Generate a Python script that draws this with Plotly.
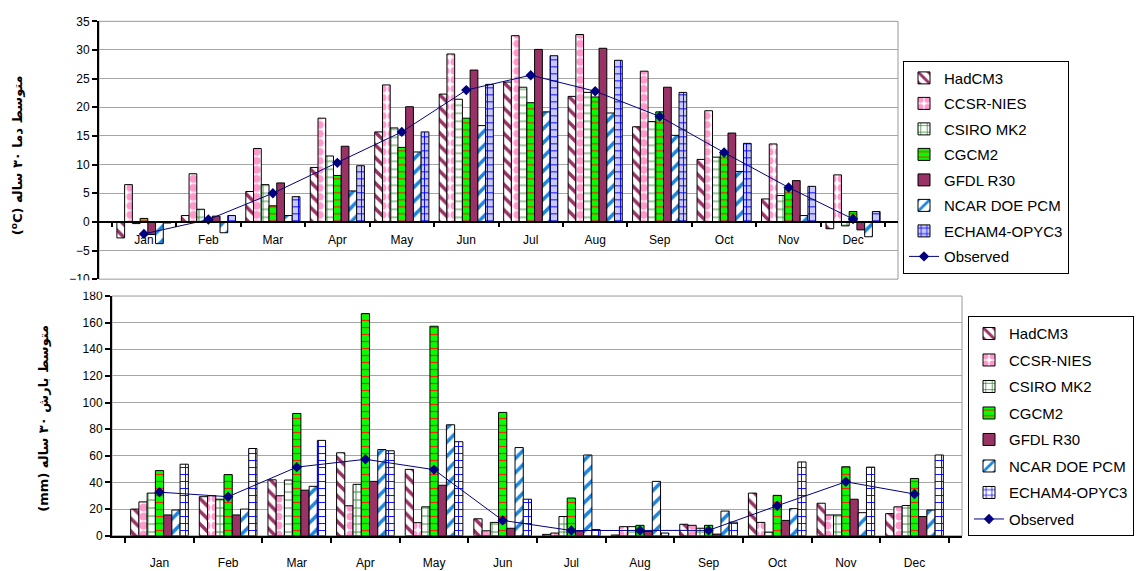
import plotly.graph_objects as go

W, H = 1138, 571

months = ["Jan", "Feb", "Mar", "Apr", "May", "Jun", "Jul", "Aug", "Sep", "Oct", "Nov", "Dec"]
models = ["HadCM3", "CCSR-NIES", "CSIRO MK2", "CGCM2", "GFDL R30", "NCAR DOE PCM", "ECHAM4-OPYC3"]

# 30-year mean temperature (°C)
temp_hadcm3 = [-2.8, 1.1, 5.3, 9.5, 15.7, 22.3, 24.4, 21.9, 16.6, 10.9, 4.0, -1.2]
temp_ccsr = [6.5, 8.4, 12.8, 18.1, 23.9, 29.3, 32.5, 32.7, 26.3, 19.4, 13.6, 8.2]
temp_csiro = [-0.3, 2.2, 6.5, 11.5, 16.4, 21.4, 23.5, 22.6, 17.5, 11.3, 4.6, -0.7]
temp_cgcm2 = [0.6, 0.3, 2.8, 8.1, 13.0, 18.1, 20.8, 21.8, 19.2, 11.9, 5.8, 1.8]
temp_gfdl = [-2.2, 1.0, 6.8, 13.2, 20.1, 26.5, 30.1, 30.3, 23.5, 15.5, 7.2, -1.4]
temp_ncar = [-3.8, -1.9, 1.1, 5.4, 12.2, 16.8, 19.2, 19.0, 15.1, 8.8, 1.1, -2.6]
temp_echam = [-0.2, 1.1, 4.4, 9.8, 15.7, 24.0, 29.0, 28.2, 22.6, 13.7, 6.2, 1.8]
temp_obs = [-2.1, 0.4, 5.0, 10.3, 15.7, 23.0, 25.6, 22.8, 18.4, 12.1, 6.0, 0.5]

# 30-year mean precipitation (mm)
prec_hadcm3 = [20.0, 29.3, 42.0, 62.3, 49.8, 12.7, 1.0, 0.5, 8.6, 32.0, 24.4, 16.6]
prec_ccsr = [25.4, 30.0, 30.0, 22.5, 9.8, 3.7, 2.0, 6.8, 7.8, 10.0, 15.6, 21.7]
prec_csiro = [32.0, 27.4, 41.8, 38.6, 21.7, 10.0, 14.4, 6.8, 5.6, 2.7, 15.6, 22.7]
prec_cgcm2 = [48.9, 45.9, 91.8, 166.8, 157.3, 92.6, 28.3, 7.8, 7.8, 30.3, 51.8, 43.0]
prec_gfdl = [15.6, 15.6, 34.2, 40.8, 37.9, 5.6, 3.6, 3.2, 1.2, 11.5, 27.4, 14.4]
prec_ncar = [19.3, 20.0, 37.1, 64.7, 83.3, 66.2, 60.6, 40.8, 18.5, 20.3, 17.3, 19.3]
prec_echam = [53.7, 65.5, 71.6, 63.8, 70.6, 27.4, 4.6, 2.0, 10.2, 55.4, 51.5, 60.6]
prec_obs = [32.7, 29.3, 51.5, 57.4, 49.6, 11.5, 3.9, 3.9, 4.0, 22.5, 40.5, 31.3]

temp_series = [temp_hadcm3, temp_ccsr, temp_csiro, temp_cgcm2, temp_gfdl, temp_ncar, temp_echam]
prec_series = [prec_hadcm3, prec_ccsr, prec_csiro, prec_cgcm2, prec_gfdl, prec_ncar, prec_echam]

MAROON = "#993366"
PINK = "#FF99CC"
DKGREEN = "#2E8B2E"
GREEN = "#00FF00"
SKY = "#1C86E0"
BLUE = "#0000FF"
NAVY = "#000080"

def styles(echam_bg):
    return [
        dict(shape="\\", fgcolor=MAROON, bgcolor="white", size=9, solidity=0.4, fillmode="replace"),
        dict(shape=".", fgcolor=PINK, bgcolor="white", size=9, solidity=0.6, fillmode="replace"),
        dict(shape="+", fgcolor=DKGREEN, bgcolor="white", size=8, solidity=0.22, fillmode="replace"),
        dict(shape="-", fgcolor="#FF2000", bgcolor=GREEN, size=7, solidity=0.18, fillmode="replace"),
        None,
        dict(shape="/", fgcolor=SKY, bgcolor="white", size=10, solidity=0.35, fillmode="replace"),
        dict(shape="+", fgcolor=BLUE, bgcolor=echam_bg, size=7, solidity=0.25, fillmode="replace"),
    ]

fig = go.Figure()

def add_panel(series, obs, xa, ya, legend, echam_bg):
    for name, vals, pat in zip(models, series, styles(echam_bg)):
        marker = dict(line=dict(color="black", width=1))
        if pat is None:
            marker["color"] = MAROON
        else:
            marker["color"] = pat["bgcolor"]
            marker["pattern"] = pat
        fig.add_trace(go.Bar(x=months, y=vals, name=name, marker=marker,
                             xaxis=xa, yaxis=ya, legend=legend, legendgroup=legend + name))
    fig.add_trace(go.Scatter(x=months, y=obs, name="Observed", mode="lines+markers",
                             line=dict(color=NAVY, width=1),
                             marker=dict(symbol="diamond", size=8, color=NAVY),
                             xaxis=xa, yaxis=ya, legend=legend, legendgroup=legend + "obs"))

add_panel(temp_series, temp_obs, "x", "y", "legend", "#C8C8FF")
add_panel(prec_series, prec_obs, "x2", "y2", "legend2", "white")

def px_x(p):
    return p / W

def px_y(p):
    return 1 - p / H

# panel geometry
top_dom_x = [px_x(99), px_x(898)]
top_dom_y = [px_y(279), px_y(14.7)]
top_range = [-10, 35]
zero_pos = top_dom_y[0] + (0 - top_range[0]) / (top_range[1] - top_range[0]) * (top_dom_y[1] - top_dom_y[0])

bot_dom_x = [px_x(112), px_x(962)]
bot_dom_y = [px_y(542), px_y(296.3)]

tick_font = dict(family="Arial, Liberation Sans, sans-serif", size=12, color="black")
legend_font = dict(family="Arial, Liberation Sans, sans-serif", size=15, color="black")
GRID = "#A6A6A6"

fig.update_layout(
    width=W, height=H, margin=dict(l=0, r=0, t=0, b=0),
    paper_bgcolor="white", plot_bgcolor="white",
    barmode="group", bargap=0.16, bargroupgap=0,
    font=tick_font,
    xaxis=dict(domain=top_dom_x, anchor="free", position=zero_pos, type="category",
               showline=True, linecolor="black", linewidth=2, ticks="outside", tickson="boundaries",
               ticklen=4, tickcolor="black", tickwidth=2, showgrid=False, ticklabelstandoff=7,
               tickfont=tick_font),
    yaxis=dict(domain=top_dom_y, anchor="x", range=top_range, dtick=5, showline=True,
               linecolor="black", linewidth=2, ticks="outside", ticklen=5, tickcolor="black",
               tickwidth=2, showgrid=True, gridcolor=GRID, gridwidth=1, zeroline=False,
               tickfont=tick_font),
    xaxis2=dict(domain=bot_dom_x, anchor="y2", type="category",
                showline=True, linecolor="black", linewidth=2, ticks="outside", tickson="boundaries",
                ticklen=5, tickcolor="black", tickwidth=2, showgrid=False, ticklabelstandoff=15,
                tickfont=tick_font),
    yaxis2=dict(domain=bot_dom_y, anchor="x2", range=[0, 180], dtick=20, showline=True,
                linecolor="black", linewidth=2, ticks="outside", ticklen=5, tickcolor="black",
                tickwidth=2, showgrid=True, gridcolor=GRID, gridwidth=1, zeroline=False,
                tickfont=tick_font),
    legend=dict(x=px_x(903), y=px_y(55), xanchor="left", yanchor="top",
                bordercolor="black", borderwidth=1, bgcolor="white", font=legend_font,
                traceorder="grouped", tracegroupgap=3, itemwidth=30),
    legend2=dict(x=px_x(968), y=px_y(317), xanchor="left", yanchor="top",
                 bordercolor="black", borderwidth=1, bgcolor="white", font=legend_font,
                 traceorder="grouped", tracegroupgap=4, itemwidth=30),
    shapes=[
        dict(type="rect", xref="x domain", yref="y domain", x0=0, x1=1, y0=0, y1=1,
             line=dict(color="#999999", width=1), layer="below"),
        dict(type="rect", xref="x2 domain", yref="y2 domain", x0=0, x1=1, y0=0, y1=1,
             line=dict(color="#999999", width=1), layer="below"),
        dict(type="rect", xref="paper", yref="paper", x0=0, x1=px_x(905), y0=px_y(292), y1=px_y(280),
             fillcolor="white", line=dict(width=0), layer="above"),
    ],
    annotations=[
        dict(text="<b>(<sup>o</sup>C) متوسط دما ۳۰ ساله</b>", xref="paper", yref="paper",
             x=px_x(17), y=px_y(152), xanchor="center", yanchor="middle",
             textangle=-90, showarrow=False,
             font=dict(family="DejaVu Sans", size=13, color="black")),
        dict(text="<b>(mm) متوسط بارش ۳۰ ساله</b>", xref="paper", yref="paper",
             x=px_x(44), y=px_y(422), xanchor="center", yanchor="middle",
             textangle=-90, showarrow=False,
             font=dict(family="DejaVu Sans", size=13, color="black")),
    ],
)

fig.write_html("out.html")
